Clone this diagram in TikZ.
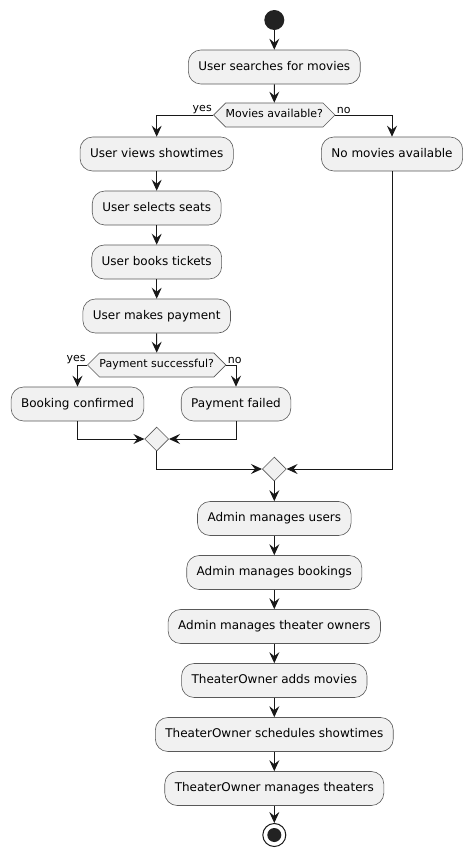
\documentclass[tikz,border=0pt]{standalone}
\usepackage{fontspec}
\setmainfont{DejaVu Sans}
\usetikzlibrary{shapes.geometric, shapes.symbols, arrows.meta, positioning}
\definecolor{actfill}{HTML}{F1F1F1}
\definecolor{edgecol}{HTML}{181818}
\definecolor{dotcol}{HTML}{222222}
\tikzstyle{action} = [rectangle, rounded corners=12.5pt, minimum height=34pt, inner xsep=10pt, text height=9pt, text depth=2.5pt, text centered, draw=black!65, line width=0.6pt, fill=actfill, font=\fontsize{12}{14}\selectfont]
\tikzstyle{decision} = [signal, signal to=west and east, signal pointer angle=90, minimum height=24pt, inner xsep=0pt, inner ysep=0pt, text height=8pt, text depth=2.3pt, draw=black!65, line width=0.6pt, fill=actfill, font=\fontsize{11}{13}\selectfont]
\tikzstyle{mergept} = [diamond, minimum size=24pt, inner sep=0pt, draw=black!65, line width=0.6pt, fill=actfill]
\tikzstyle{startdot} = [circle, minimum size=20pt, inner sep=0pt, fill=dotcol]
\tikzstyle{enddot} = [circle, minimum size=23pt, inner sep=0pt, draw=edgecol, line width=1pt, fill=white, path picture={\fill[dotcol] (path picture bounding box.center) circle (7pt);}]
\tikzstyle{arrow} = [line width=1pt, draw=edgecol, -{Stealth[length=11pt, width=10pt, inset=4pt]}]
\tikzstyle{branch} = [font=\fontsize{11}{13}\selectfont, inner sep=1pt]

\begin{document}
\begin{tikzpicture}[x=1pt, y=-1pt, node distance=54pt]
\useasboundingbox (0,0) rectangle (472,857);
\node (start) [startdot] at (274.3,20) {};
\node (search) [action, below of=start, yshift=7pt] {User searches for movies};
\node (avail) [decision, below of=search, yshift=6pt] {Movies available?};
\node (views) [action] at (156.7,154) {User views showtimes};
\node (nomov) [action] at (392,154) {No movies available};
\node (seats) [action, below of=views] {User selects seats};
\node (tickets) [action, below of=seats] {User books tickets};
\node (payment) [action, below of=tickets] {User makes payment};
\node (paid) [decision, below of=payment, yshift=5pt] {Payment successful?};
\node (booked) [action] at (77.5,404) {Booking confirmed};
\node (failed) [action] at (236,404) {Payment failed};
\node (merge1) [mergept] at (156.7,439) {};
\node (merge2) [mergept] at (274.3,469) {};
\node (users) [action, below of=merge2, yshift=4.5pt] {Admin manages users};
\node (bookings) [action, below of=users] {Admin manages bookings};
\node (owners) [action, below of=bookings] {Admin manages theater owners};
\node (movies) [action, below of=owners] {TheaterOwner adds movies};
\node (shows) [action, below of=movies] {TheaterOwner schedules showtimes};
\node (theaters) [action, below of=shows] {TheaterOwner manages theaters};
\node (stop) [enddot, below of=theaters, yshift=7.5pt] {};

\draw [arrow](start) -- (search);
\draw [arrow](search) -- (avail);
\draw [arrow](avail.west) -| node[branch, pos=0, above left]{yes} (views.north);
\draw [arrow](avail.east) -| node[branch, pos=0, above right]{no} (nomov.north);
\draw [arrow](views) -- (seats);
\draw [arrow](seats) -- (tickets);
\draw [arrow](tickets) -- (payment);
\draw [arrow](payment) -- (paid);
\draw [arrow](paid.west) -| node[branch, pos=0, above left]{yes} (booked.north);
\draw [arrow](paid.east) -| node[branch, pos=0, above right]{no} (failed.north);
\draw [arrow](booked.south) |- (merge1.west);
\draw [arrow](failed.south) |- (merge1.east);
\draw [arrow](merge1.south) |- (merge2.west);
\draw [arrow](nomov.south) |- (merge2.east);
\draw [arrow](merge2) -- (users);
\draw [arrow](users) -- (bookings);
\draw [arrow](bookings) -- (owners);
\draw [arrow](owners) -- (movies);
\draw [arrow](movies) -- (shows);
\draw [arrow](shows) -- (theaters);
\draw [arrow](theaters) -- (stop);
\end{tikzpicture}
\end{document}
